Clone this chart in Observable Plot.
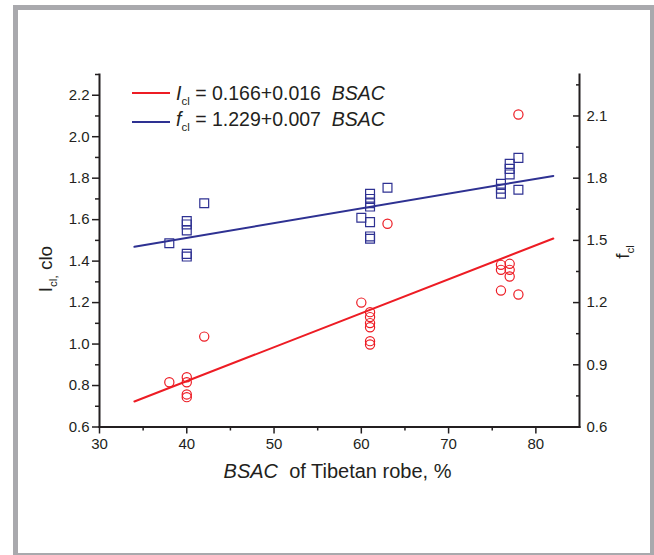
<!DOCTYPE html>
<html>
<head>
<meta charset="utf-8">
<script src="https://cdn.jsdelivr.net/npm/d3@7"></script>
<script src="https://cdn.jsdelivr.net/npm/@observablehq/plot@0.6"></script>
<style>
  body { margin: 0; background: #fff; font-family: Arial, "Liberation Sans", sans-serif; }
  #wrap { position: relative; width: 654px; height: 555px; overflow: hidden; }
  #frame { position: absolute; left: 13px; top: 5px; width: 642px; height: 553px; border: 5px solid #a9a9ad; box-sizing: border-box; pointer-events: none; }
  .t { position: absolute; color: #231f20; white-space: nowrap; font-size: 19px; line-height: 19px; }
  .sub { font-size: 11.5px; font-style: normal; vertical-align: -5px; line-height: 0; }
  .sw { position: absolute; height: 2px; width: 38px; }
  .rot { transform: translate(-50%, -50%) rotate(-90deg); }
</style>
</head>
<body>
<div id="wrap"></div>
<script>
// ---- data ----
const xMajor = [30, 40, 50, 60, 70, 80];
const xMinor = [35, 45, 55, 65, 75];
const leftMajor = [0.6, 0.8, 1.0, 1.2, 1.4, 1.6, 1.8, 2.0, 2.2];
const leftMinor = [0.7, 0.9, 1.1, 1.3, 1.5, 1.7, 1.9, 2.1, 2.3];
const rightMajor = [0.6, 0.9, 1.2, 1.5, 1.8, 2.1];
const rightMinor = [0.75, 1.05, 1.35, 1.65, 1.95, 2.25];
const xDomain = [30, 85];
const leftDomain = [0.6, 2.3];
const rightDomain = [0.6, 2.3];

// I_cl measurements (circles, left axis)
const iclX = [38, 40, 40, 40, 40, 42, 60, 61, 61, 61, 61, 61, 61, 63, 76, 76, 76, 77, 77, 77, 78, 78];
const iclY = [0.816, 0.84, 0.816, 0.757, 0.744, 1.036, 1.2, 1.154, 1.13, 1.101, 1.081, 1.014, 0.998, 1.58, 1.382, 1.358, 1.258, 1.387, 1.358, 1.326, 1.239, 2.107];
// f_cl measurements (squares, right axis)
const fclX = [38, 40, 40, 40, 40, 40, 42, 60, 61, 61, 61, 61, 61, 61, 61, 63, 76, 76, 76, 77, 77, 77, 78, 78];
const fclY = [1.486, 1.593, 1.577, 1.548, 1.435, 1.422, 1.679, 1.609, 1.725, 1.70, 1.679, 1.663, 1.588, 1.519, 1.508, 1.754, 1.773, 1.749, 1.725, 1.869, 1.845, 1.818, 1.898, 1.744];

// fitted lines (read at their ends)
const fitX = [34, 82];
const fitI = [0.723, 1.509];
const fitF = [1.469, 1.811];

const seriesColors = ["#ed1c24", "#2e3192"];
const legendSymbols = ["I", "f"];
const legendFits = ["0.166+0.016", "1.229+0.007"];
const xTitle = ["BSAC", "of Tibetan robe, %"];
const leftTitle = ["I", "cl,", " clo"];
const rightTitle = ["f", "cl"];

// ---- helpers ----
const k = (leftDomain[1] - leftDomain[0]) / (rightDomain[1] - rightDomain[0]);
const toLeft = r => leftDomain[0] + (r - rightDomain[0]) * k;
const fromLeft = l => rightDomain[0] + (l - leftDomain[0]) / k;

const icl = iclX.map((x, i) => ({x, y: iclY[i]}));
const fcl = fclX.map((x, i) => ({x, y: toLeft(fclY[i])}));
const lineI = fitX.map((x, i) => ({x, y: fitI[i]}));
const lineF = fitX.map((x, i) => ({x, y: toLeft(fitF[i])}));

const ink = "#231f20";

const chart = Plot.plot({
  width: 654,
  height: 555,
  marginLeft: 99,
  marginRight: 75,
  marginTop: 74,
  marginBottom: 128.5,
  x: {domain: xDomain},
  y: {domain: leftDomain},
  style: {fontFamily: "Arial, 'Liberation Sans', sans-serif", fontSize: "15px", color: ink, background: "transparent", overflow: "visible"},
  marks: [
    Plot.axisX(xMajor, {tickSize: 7, tickPadding: 4, tickFormat: d => String(d), label: null, strokeWidth: 1.5}),
    Plot.axisX(xMinor, {tickSize: 4, tickFormat: () => "", label: null, strokeWidth: 1.5}),
    Plot.axisY(leftMajor, {tickSize: 7, tickPadding: 3, tickFormat: d => d.toFixed(1), label: null, strokeWidth: 1.5}),
    Plot.axisY(leftMinor, {tickSize: 4, tickFormat: () => "", label: null, strokeWidth: 1.5}),
    Plot.axisY(rightMajor.map(toLeft), {anchor: "right", tickSize: 0, tickPadding: 7, tickFormat: d => fromLeft(d).toFixed(1), label: null}),
    Plot.axisY(rightMajor.map(toLeft), {anchor: "right", tickSize: 7, dx: -7, tickFormat: () => "", label: null, strokeWidth: 1.5}),
    Plot.axisY(rightMinor.map(toLeft), {anchor: "right", tickSize: 4, dx: -4, tickFormat: () => "", label: null, strokeWidth: 1.5}),
    Plot.frame({anchor: "left", stroke: ink, strokeWidth: 2}),
    Plot.frame({anchor: "right", stroke: ink, strokeWidth: 2}),
    Plot.frame({anchor: "bottom", stroke: ink, strokeWidth: 2}),
    Plot.dot(fcl, {x: "x", y: "y", symbol: "square", r: 5, stroke: seriesColors[1], fill: "none", strokeWidth: 1.2}),
    Plot.dot(icl, {x: "x", y: "y", symbol: "circle", r: 4.6, stroke: seriesColors[0], fill: "none", strokeWidth: 1.2}),
    Plot.line(lineI, {x: "x", y: "y", stroke: seriesColors[0], strokeWidth: 2}),
    Plot.line(lineF, {x: "x", y: "y", stroke: seriesColors[1], strokeWidth: 2})
  ]
});

const wrap = document.getElementById("wrap");
wrap.appendChild(chart);

function addDiv(cls, html, style) {
  const d = document.createElement("div");
  d.className = cls;
  d.innerHTML = html;
  Object.assign(d.style, style);
  wrap.appendChild(d);
  return d;
}

// legend
const legendTops = [83.5, 110.2];
const swatchTops = [91.7, 120.7];
legendSymbols.forEach((s, i) => {
  addDiv("sw", "", {left: "132px", top: swatchTops[i] + "px", background: seriesColors[i]});
  addDiv("t", `<i>${s}</i><span class="sub">cl</span> = ${legendFits[i]}&nbsp; <i>BSAC</i>`, {left: "176px", top: legendTops[i] + "px", fontSize: "19.5px", lineHeight: "19.5px"});
});

// x axis title
addDiv("t", `<i>${xTitle[0]}</i>&nbsp; ${xTitle[1]}`, {left: "337.5px", top: "461px", transform: "translateX(-50%)", fontSize: "20px", lineHeight: "20px"});
// left axis title
addDiv("t rot", `${leftTitle[0]}<span class="sub">${leftTitle[1]}</span>${leftTitle[2]}`, {left: "45.1px", top: "269px"});
// right axis title
addDiv("t rot", `${rightTitle[0]}<span class="sub">${rightTitle[1]}</span>`, {left: "622.4px", top: "251.5px"});

// outer frame
addDiv("", "", {}).id = "frame";
</script>
</body>
</html>
